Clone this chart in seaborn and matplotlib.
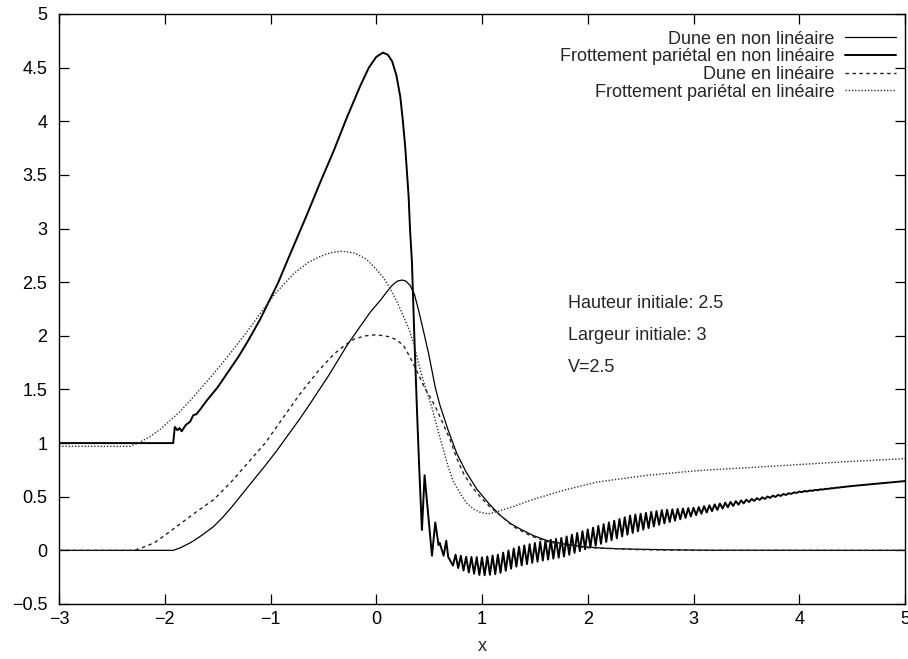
import numpy as np
import pandas as pd
import matplotlib
matplotlib.use("Agg")
import matplotlib.pyplot as plt
import seaborn as sns

# ---------------- data ----------------
dune_nl_x = [-3.0, -1.92, -1.85, -1.75, -1.65, -1.54, -1.45, -1.37, -1.28, -1.19,
             -1.05, -0.94, -0.845, -0.72, -0.624, -0.45, -0.277, -0.15, -0.057, 0.038,
             0.10, 0.15, 0.20, 0.243, 0.28, 0.32, 0.36, 0.40, 0.45, 0.495,
             0.558, 0.60, 0.68, 0.763, 0.85, 0.952, 1.07, 1.173, 1.27, 1.36,
             1.48, 1.61, 1.77, 1.93, 2.15, 2.40, 2.8, 3.2, 5.0]
dune_nl_y = [0.0, 0.0, 0.025, 0.075, 0.14, 0.22, 0.31, 0.40, 0.51, 0.62,
             0.79, 0.93, 1.06, 1.23, 1.37, 1.63, 1.91, 2.09, 2.22, 2.33,
             2.41, 2.47, 2.51, 2.52, 2.51, 2.47, 2.39, 2.24, 2.03, 1.835,
             1.52, 1.36, 1.12, 0.90, 0.73, 0.57, 0.43, 0.326, 0.25, 0.20,
             0.14, 0.093, 0.06, 0.037, 0.02, 0.012, 0.005, 0.001, 0.0]

frot_nl_x = [-3.0, -1.92, -1.905, -1.88, -1.86, -1.84, -1.80, -1.76, -1.73, -1.70,
             -1.66, -1.60, -1.50, -1.41, -1.30, -1.22, -1.10, -1.03, -0.93, -0.845,
             -0.75, -0.655, -0.53, -0.40, -0.28, -0.151, -0.07, 0.0, 0.063, 0.11,
             0.15, 0.19, 0.227, 0.25, 0.274, 0.306, 0.32, 0.337, 0.36, 0.385,
             0.405, 0.432, 0.457, 0.527, 0.558, 0.589, 0.60, 0.637, 0.662, 0.68]
frot_nl_y = [1.0, 1.0, 1.15, 1.12, 1.14, 1.11, 1.17, 1.20, 1.26, 1.27,
             1.32, 1.40, 1.52, 1.65, 1.81, 1.94, 2.15, 2.29, 2.49, 2.69,
             2.91, 3.13, 3.43, 3.73, 4.03, 4.33, 4.50, 4.60, 4.64, 4.62,
             4.56, 4.43, 4.23, 4.02, 3.76, 3.30, 2.98, 2.70, 2.00, 1.31,
             0.80, 0.19, 0.70, -0.05, 0.26, 0.05, 0.07, -0.05, 0.09, -0.06]

# oscillating tail of the non-linear friction: centre line and half-amplitude
tail_x = [0.70, 0.85, 1.0, 1.15, 1.33, 1.55, 1.77, 2.1, 2.4, 2.7, 3.03, 3.3, 3.54, 4.0, 4.5, 5.0]
tail_center = [-0.08, -0.13, -0.15, -0.13, -0.06, -0.01, 0.03, 0.14, 0.24, 0.31, 0.365, 0.42,
               0.466, 0.544, 0.60, 0.646]
tail_amp = [0.05, 0.07, 0.085, 0.09, 0.09, 0.09, 0.09, 0.088, 0.085, 0.065, 0.035, 0.025,
            0.012, 0.004, 0.0, 0.0]
tail_half_period = 0.025

dune_l_x = [-3.0, -2.29, -2.2, -2.1, -2.0, -1.85, -1.7, -1.54, -1.37, -1.21,
            -1.05, -0.90, -0.72, -0.55, -0.40, -0.30, -0.21, -0.10, 0.0, 0.07,
            0.13, 0.195, 0.258, 0.32, 0.385, 0.45, 0.52, 0.574, 0.64, 0.70,
            0.76, 0.826, 0.90, 0.983, 1.07, 1.157, 1.30, 1.45, 1.6, 1.8,
            2.0, 2.5, 3.0, 5.0]
dune_l_y = [0.0, 0.0, 0.03, 0.07, 0.14, 0.25, 0.36, 0.47, 0.64, 0.82,
            1.0, 1.21, 1.46, 1.67, 1.83, 1.91, 1.97, 2.0, 2.01, 2.0,
            1.99, 1.96, 1.91, 1.80, 1.67, 1.53, 1.41, 1.31, 1.16, 1.03,
            0.86, 0.715, 0.60, 0.50, 0.41, 0.34, 0.22, 0.14, 0.085, 0.045,
            0.025, 0.006, 0.0, 0.0]

frot_l_x = [-3.0, -2.33, -2.25, -2.14, -2.04, -1.95, -1.85, -1.73, -1.57, -1.41,
            -1.30, -1.19, -1.097, -0.95, -0.78, -0.65, -0.53, -0.43, -0.325, -0.20,
            -0.088, 0.0, 0.07, 0.132, 0.20, 0.258, 0.31, 0.353, 0.416, 0.47,
            0.527, 0.58, 0.637, 0.68, 0.73, 0.80, 0.857, 0.92, 0.983, 1.06,
            1.14, 1.30, 1.456, 1.77, 2.09, 2.56, 3.06, 3.5, 4.0, 4.5, 5.0]
frot_l_y = [0.97, 0.97, 1.0, 1.06, 1.13, 1.21, 1.30, 1.43, 1.61, 1.80,
            1.94, 2.08, 2.21, 2.40, 2.58, 2.68, 2.74, 2.775, 2.79, 2.77,
            2.71, 2.62, 2.54, 2.44, 2.31, 2.18, 2.06, 1.93, 1.68, 1.50,
            1.33, 1.13, 0.93, 0.78, 0.64, 0.52, 0.44, 0.385, 0.355, 0.34,
            0.36, 0.41, 0.466, 0.56, 0.637, 0.70, 0.745, 0.77, 0.80, 0.83, 0.855]

labels = ["Dune en non linéaire", "Frottement pariétal en non linéaire",
          "Dune en linéaire", "Frottement pariétal en linéaire"]
x_ticks = [-3, -2, -1, 0, 1, 2, 3, 4, 5]
y_ticks = [-0.5, 0, 0.5, 1, 1.5, 2, 2.5, 3, 3.5, 4, 4.5, 5]
y_tick_labels = ["\u22120.5", "0", "0.5", "1", "1.5", "2", "2.5", "3", "3.5", "4", "4.5", "5"]
x_tick_labels = ["\u22123", "\u22122", "\u22121", "0", "1", "2", "3", "4", "5"]
annotations = ["Hauteur initiale: 2.5", "Largeur initiale: 3", "V=2.5"]
annot_x = 1.81
annot_y = [2.30, 2.00, 1.70]

# build the zig-zag tail
zx = np.arange(tail_x[0], tail_x[-1] + 1e-9, tail_half_period)
sign = np.where(np.arange(len(zx)) % 2 == 0, 1.0, -1.0)
zy = np.interp(zx, tail_x, tail_center) + sign * np.interp(zx, tail_x, tail_amp)
frot_nl_full_x = list(frot_nl_x) + list(zx[1:])
frot_nl_full_y = list(frot_nl_y) + list(zy[1:])

# ---------------- plot ----------------
FS = 13
sns.set_style("ticks")
plt.rcParams["font.family"] = ["Liberation Sans", "DejaVu Sans"]
plt.rcParams["font.size"] = FS

fig = plt.figure(figsize=(9.08, 6.59), dpi=100)
ax = fig.add_axes([59 / 908, 55 / 659, 846 / 908, 590 / 659])

series = [
    (dune_nl_x, dune_nl_y, dict(color="black", lw=0.9, linestyle="-")),
    (frot_nl_full_x, frot_nl_full_y, dict(color="black", lw=1.4, linestyle="-")),
    (dune_l_x, dune_l_y, dict(color="#222222", lw=1.0, linestyle=(0, (2.5, 2.5)))),
    (frot_l_x, frot_l_y, dict(color="#333333", lw=1.0, linestyle=(0, (1.0, 1.3)))),
]
for (sx, sy, kw), lab in zip(series, labels):
    df = pd.DataFrame({"x": sx, "y": sy})
    sns.lineplot(data=df, x="x", y="y", ax=ax, estimator=None, sort=False,
                 label=lab, **kw)

ax.set_xlim(-3, 5)
ax.set_ylim(-0.5, 5)
ax.set_xticks(x_ticks)
ax.set_xticklabels(x_tick_labels)
ax.set_yticks(y_ticks)
ax.set_yticklabels(y_tick_labels)
ax.set_xlabel("x", fontsize=FS, labelpad=7)
ax.set_ylabel("")
ax.tick_params(axis="both", direction="in", length=7, width=0.9, labelsize=FS,
               top=True, right=True, colors="black")
ax.tick_params(axis="y", pad=8.5)
ax.tick_params(axis="x", pad=5)
for sp in ax.spines.values():
    sp.set_visible(True)
    sp.set_linewidth(1.0)
    sp.set_color("black")

for t, yy in zip(annotations, annot_y):
    ax.text(annot_x, yy, t, fontsize=FS, ha="left", va="center")

leg = ax.legend(loc="upper right", bbox_to_anchor=(0.989, 0.972), frameon=False,
                markerfirst=False, handlelength=2.8, handletextpad=0.6,
                labelspacing=0.04, borderpad=0.0, borderaxespad=0.0, fontsize=FS)
for col in leg._legend_handle_box.get_children():
    col.align = "right"

fig.savefig("out.png", dpi=100)
